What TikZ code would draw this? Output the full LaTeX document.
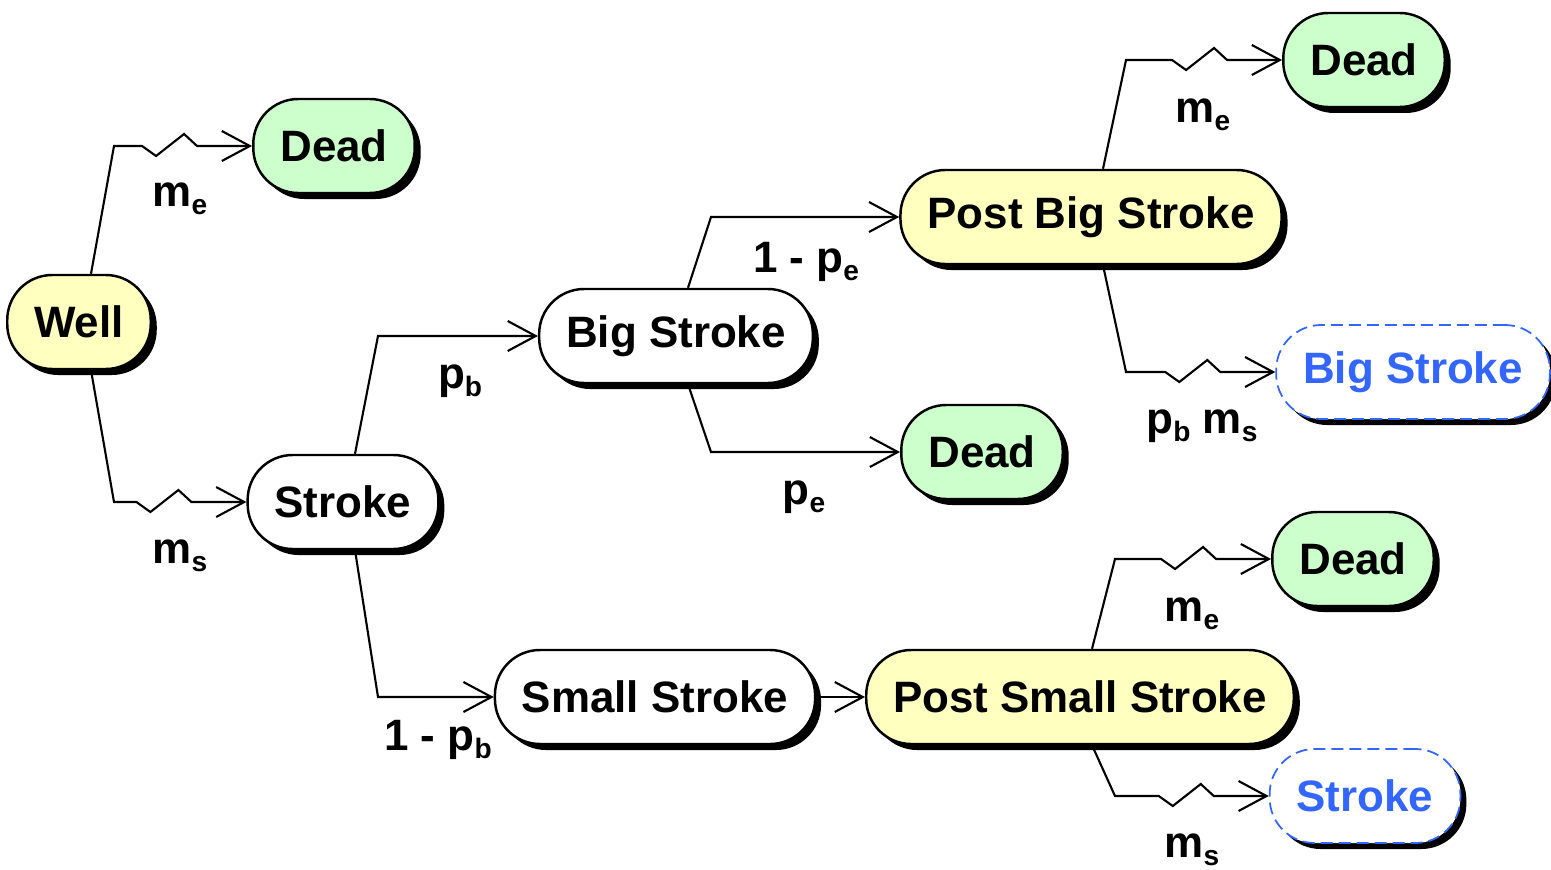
\documentclass[tikz,border=0pt]{standalone}
\usepackage{fontspec}
\setmainfont{Liberation Sans}
\usetikzlibrary{shadows,arrows.meta}
\definecolor{yel}{RGB}{255,255,192}
\definecolor{grn}{RGB}{204,255,204}
\definecolor{blu}{RGB}{51,102,255}
\newcommand{\sbs}[1]{\raisebox{-2.3pt}{\fontsize{8}{8}\selectfont #1}}

\begin{document}
\begin{tikzpicture}[->,>={Straight Barb[length=2.8mm,width=3mm]}, line width=0.6pt]
\tikzstyle{st}=[rectangle, rounded corners=4.5mm, draw=black, line width=0.7pt, minimum height=9.4mm, inner xsep=2.7mm,
  font=\fontsize{12.5}{15}\selectfont\bfseries, drop shadow={shadow xshift=0.6mm, shadow yshift=-0.6mm, fill=black, opacity=1}]
\tikzstyle{alive}=[st, fill=yel]
\tikzstyle{sick}=[st, fill=white]
\tikzstyle{dead}=[st, fill=grn]
\tikzstyle{loop}=[st, fill=white, draw=blu, text=blu, line width=0.5pt, dash pattern=on 1.2mm off 0.6mm]
\tikzstyle{lbl}=[font=\fontsize{12.5}{15}\selectfont\bfseries, inner sep=0pt]
\tikzstyle{goup}=[to path={([xshift=1.2mm]\tikztostart.north) -- ([xshift=3.5mm]\tikztostart.north |- \tikztotarget.west) -- (\tikztotarget.west)}]
\tikzstyle{godown}=[to path={([xshift=1.2mm]\tikztostart.south) -- ([xshift=3.5mm]\tikztostart.south |- \tikztotarget.west) -- (\tikztotarget.west)}]
\tikzstyle{zigup}=[to path={([xshift=1.2mm]\tikztostart.north) -- ([xshift=3.5mm]\tikztostart.north |- \tikztotarget.west)
  -- ([xshift=-11mm]\tikztotarget.west) -- ++(1.4mm,-1mm) -- ++(2.8mm,2.2mm) -- ++(1.3mm,-1.2mm) -- (\tikztotarget.west)}]
\tikzstyle{zigdown}=[to path={([xshift=1.2mm]\tikztostart.south) -- ([xshift=3.5mm]\tikztostart.south |- \tikztotarget.west)
  -- ([xshift=-11mm]\tikztotarget.west) -- ++(1.4mm,-1mm) -- ++(2.8mm,2.2mm) -- ++(1.3mm,-1.2mm) -- (\tikztotarget.west)}]
\tikzstyle{flat}=[to path={(\tikztostart.east) -- (\tikztotarget.west)}]

\useasboundingbox (0,0) rectangle (15.51,-8.69);

\node[alive] (well)        at (0.79,-3.22)  {Well};
\node[dead]  (deadA)       at (3.34,-1.46)  {Dead};
\node[sick]  (stroke)      at (3.43,-5.02)  {Stroke};
\node[sick]  (big)         at (6.76,-3.36)  {Big Stroke};
\node[dead]  (deadB)       at (9.82,-4.52)  {Dead};
\node[alive] (postbig)     at (10.91,-2.17) {Post Big Stroke};
\node[dead]  (deadC)       at (13.64,-0.60) {Dead};
\node[loop]  (bigagain)    at (14.13,-3.72) {Big Stroke};
\node[sick]  (small)       at (6.55,-6.97)  {Small Stroke};
\node[alive] (postsmall)   at (10.80,-6.97) {Post Small Stroke};
\node[dead]  (deadD)       at (13.53,-5.59) {Dead};
\node[loop]  (strokeagain) at (13.65,-7.96) {Stroke};

\path
(well)      edge[zigup]   (deadA)
            edge[zigdown] (stroke)
(stroke)    edge[goup]    (big)
            edge[godown]  (small)
(big)       edge[goup]    (postbig)
            edge[godown]  (deadB)
(postbig)   edge[zigup]   (deadC)
            edge[zigdown] (bigagain)
(small)     edge[flat]    (postsmall)
(postsmall) edge[zigup]   (deadD)
            edge[zigdown] (strokeagain);

% transition labels
\node[lbl] (lmeA) at (1.80,-1.99)  {m\sbs{e}};
\node[lbl] (lmsA) at (1.80,-5.56)  {m\sbs{s}};
\node[lbl] (lpb)  at (4.60,-3.81)  {p\sbs{b}};
\node[lbl] (lnpb) at (4.38,-7.40)  {1 - p\sbs{b}};
\node[lbl] (lnpe) at (8.06,-2.62)  {1 - p\sbs{e}};
\node[lbl] (lpe)  at (8.04,-4.97)  {p\sbs{e}};
\node[lbl] (lmeB) at (12.03,-1.15) {m\sbs{e}};
\node[lbl] (lpms) at (12.02,-4.26) {p\sbs{b} m\sbs{s}};
\node[lbl] (lmeC) at (11.92,-6.14) {m\sbs{e}};
\node[lbl] (lmsC) at (11.92,-8.50) {m\sbs{s}};
\end{tikzpicture}
\end{document}
